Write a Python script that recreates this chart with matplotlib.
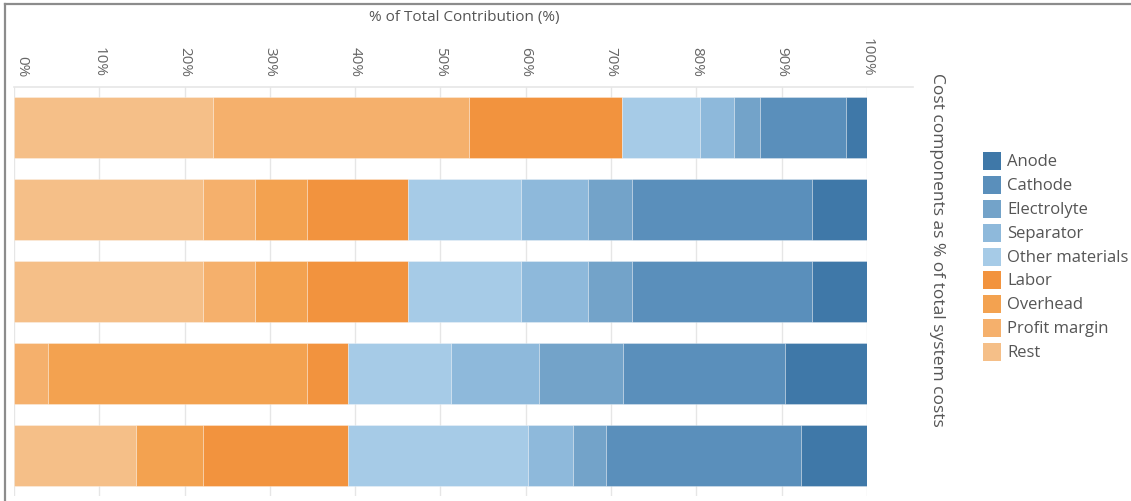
import matplotlib
matplotlib.use("Agg")
import matplotlib.pyplot as plt
from matplotlib.lines import Line2D
from matplotlib.patches import Rectangle
import numpy as np

plt.rcParams['font.family'] = ['Open Sans', 'DejaVu Sans']

# Cost breakdown per system (% of total), stacked left to right
rows = ["System 1", "System 2", "System 3", "System 4", "System 5"]
rest = [23.3, 22.2, 22.2, 0.0, 14.3]
profit_margin = [30.0, 6.1, 6.1, 4.0, 0.0]
overhead = [0.0, 6.0, 6.0, 30.3, 7.9]
labor = [18.0, 11.9, 11.9, 4.8, 16.9]
other_materials = [9.1, 13.2, 13.2, 12.1, 21.1]
separator = [4.0, 7.9, 7.9, 10.3, 5.3]
electrolyte = [3.1, 5.2, 5.2, 9.9, 3.9]
cathode = [10.0, 21.1, 21.1, 19.0, 22.9]
anode = [2.5, 6.4, 6.4, 9.6, 7.7]

components = ["Rest", "Profit margin", "Overhead", "Labor", "Other materials",
              "Separator", "Electrolyte", "Cathode", "Anode"]
series = [rest, profit_margin, overhead, labor, other_materials,
          separator, electrolyte, cathode, anode]
colors = ["#f5bf88", "#f5b06c", "#f3a250", "#f2933e", "#a6cbe7",
          "#8eb9db", "#73a3c9", "#5a8fbb", "#3f78a8"]
tick_values = [0, 10, 20, 30, 40, 50, 60, 70, 80, 90, 100]
tick_labels = [f"{v}%" for v in tick_values]

W, H = 1131, 502
fig = plt.figure(figsize=(W / 100, H / 100), dpi=100)

def fx(px):
    return px / W

def fy(py):
    return 1 - py / H

ax_left, ax_right, ax_top, ax_bottom = 14, 867, 88, 497
ax = fig.add_axes([fx(ax_left), fy(ax_bottom), fx(ax_right - ax_left),
                   (ax_bottom - ax_top) / H])

y = np.arange(len(rows))
left = np.zeros(len(rows))
for name, vals, col in zip(components, series, colors):
    vals = np.array(vals)
    ax.barh(y, vals, left=left, height=0.745, color=col,
            edgecolor=(1, 1, 1, 0.35), linewidth=0.6, zorder=2)
    left += vals

ax.set_xlim(0, 100)
ax.set_ylim(len(rows) - 0.5, -0.5)
ax.set_yticks([])
for s in ax.spines.values():
    s.set_visible(False)

ax.set_xticks(tick_values)
ax.xaxis.tick_top()
ax.set_xticklabels(tick_labels, rotation=-90, fontsize=11, color="#666666",
                   va="bottom", ha="center")
ax.xaxis.get_majorticklabels()[0].set_horizontalalignment("left")
ax.tick_params(axis="x", length=0, pad=8)
ax.grid(axis="x", color="#e6e6e6", linewidth=1, zorder=0)

# Top rule across the plot pane
fig.add_artist(Line2D([fx(14), fx(913)], [fy(88), fy(88)], color="#e6e6e6",
                      linewidth=1.2))

# Axis titles
fig.text(fx(464), fy(17), "% of Total Contribution (%)", ha="center",
         va="center", fontsize=11, color="#555555")
fig.text(fx(937), fy(250), "Cost components as % of total system costs",
         rotation=-90, ha="center", va="center", fontsize=12.5, color="#555555")

# Legend, darkest blue at the top
for i, (name, col) in enumerate(zip(components[::-1], colors[::-1])):
    cy = 161.7 + i * 23.95
    fig.add_artist(Rectangle((fx(983), fy(cy + 9)), fx(18), 18 / H,
                             facecolor=col, edgecolor="none"))
    fig.text(fx(1007), fy(cy), name, ha="left", va="center",
             fontsize=12, color="#555555")

# Frame lines along the left and top edges
fig.add_artist(Line2D([fx(5), fx(5)], [fy(5), 0], color="#8c8c8c", linewidth=1.6))
fig.add_artist(Line2D([fx(5), 1], [fy(5), fy(5)], color="#8c8c8c", linewidth=1.6))

fig.savefig("out.png", dpi=100)
